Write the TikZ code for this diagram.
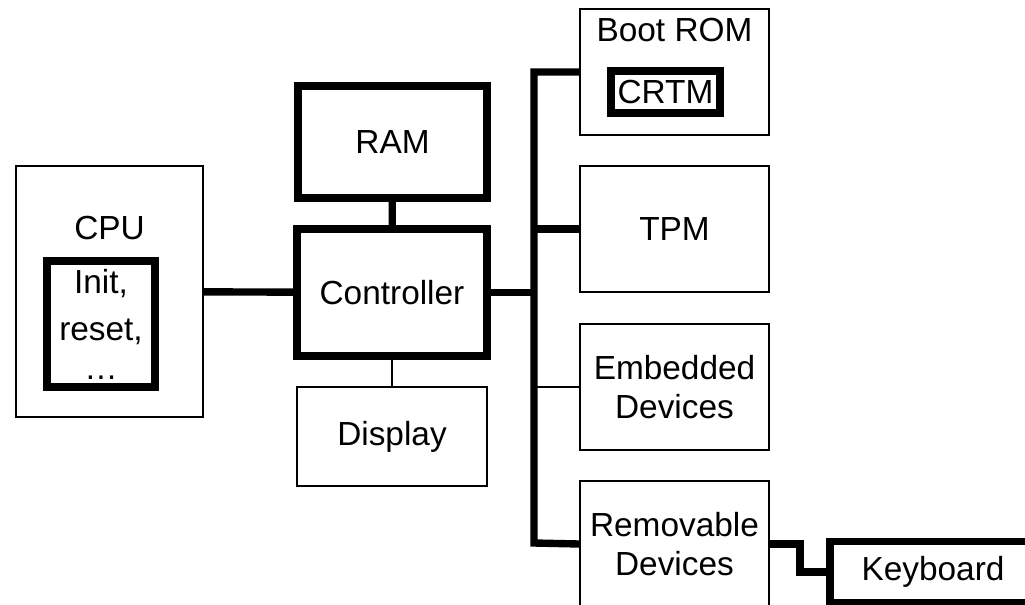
\documentclass[tikz,border=0pt]{standalone}
\usepackage{fontspec}
\setmainfont{Liberation Sans}
\tikzset{
  blk/.style={draw,line width=1.2pt,inner sep=0pt,align=center,font=\fontsize{19}{22}\selectfont},
  thickblk/.style={blk,line width=4.2pt},
  bus/.style={line width=4.2pt},
  link/.style={line width=1.2pt}
}
\begin{document}
\begin{tikzpicture}[x=0.02cm,y=-0.02cm]
\useasboundingbox (0,0) rectangle (1025,605);
% CPU
\node[blk,minimum width=3.74cm,minimum height=5.02cm] (cpu) at (109.5,291.5) {};
\node[blk,draw=none] (cpulbl) at (109.5,228) {CPU};
\node[thickblk,minimum width=2.16cm,minimum height=2.52cm] (init) at (101,324) {Init,\\[5pt]reset,\\ …};
% RAM, controller, display
\node[thickblk,minimum width=3.78cm,minimum height=2.24cm] (ram) at (392.5,142) {RAM};
\node[thickblk,minimum width=3.8cm,minimum height=2.54cm] (ctrl) at (392,292.5) {Controller};
\node[blk,minimum width=3.8cm,minimum height=1.98cm] (disp) at (392,436.5) {Display};
% devices on the bus
\node[blk,minimum width=3.78cm,minimum height=2.52cm] (boot) at (674.5,72) {};
\node[blk,draw=none] (bootlbl) at (674.5,30) {Boot ROM};
\node[thickblk,minimum width=2.18cm,minimum height=0.84cm] (crtm) at (665.5,92) {CRTM};
\node[blk,minimum width=3.78cm,minimum height=2.52cm] (tpm) at (674.5,229) {TPM};
\node[blk,minimum width=3.78cm,minimum height=2.52cm] (emb) at (674.5,387) {Embedded\\Devices};
\node[blk,minimum width=3.78cm,minimum height=2.52cm] (rem) at (674.5,544) {Removable\\Devices};
\node[thickblk,minimum width=4.12cm,minimum height=1.22cm] (kbd) at (933,572) {Keyboard};
% links
\draw[bus] (cpu) -- (ctrl);
\draw[bus] (ram) -- (ctrl);
\draw[link] (ctrl) -- (disp);
% bus
\coordinate (bt) at (534,72);
\coordinate (bb) at (534,543);
\draw[bus] (boot.west) -- (bt) -- (bb) -- (rem.west);
\draw[bus] (tpm.west) -- (tpm.west -| bt);
\draw[bus] (ctrl.east) -- (ctrl.east -| bt);
\draw[link] (emb.west) -- (emb.west -| bt);
\draw[bus] (rem.east) -- ++(30,0) |- (kbd.west);
\end{tikzpicture}
\end{document}
